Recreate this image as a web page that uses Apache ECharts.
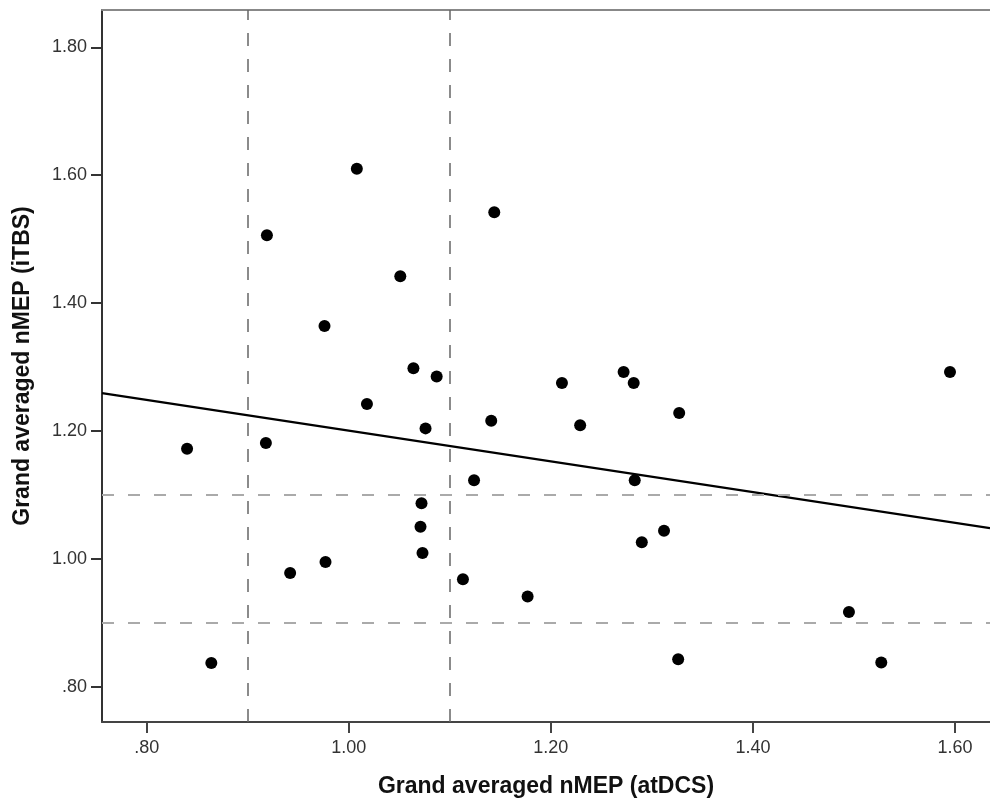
<!DOCTYPE html>
<html>
<head>
<meta charset="utf-8">
<script src="https://cdn.jsdelivr.net/npm/echarts@6/dist/echarts.min.js"></script>
<style>
    html, body { margin: 0; padding: 0; background: #fff; }
    #chart { width: 990px; height: 802px; }
</style>
</head>
<body>
<div id="chart"></div>
<script>
    // values
    var atDCS = [0.840, 0.864, 0.919, 0.918, 0.942, 0.976, 0.977, 1.008, 1.018, 1.051, 1.064,
        1.072, 1.071, 1.073, 1.076, 1.087, 1.113, 1.124, 1.144, 1.141, 1.177, 1.211,
        1.229, 1.272, 1.282, 1.283, 1.290, 1.312, 1.327, 1.326, 1.495, 1.527, 1.595];
    var iTBS = [1.172, 0.837, 1.506, 1.181, 0.978, 1.364, 0.995, 1.610, 1.242, 1.442, 1.298,
        1.087, 1.050, 1.009, 1.204, 1.285, 0.968, 1.123, 1.542, 1.216, 0.941, 1.275,
        1.209, 1.292, 1.275, 1.123, 1.026, 1.044, 1.228, 0.843, 0.917, 0.838, 1.292];
    var fitX = [0.7558, 1.6346];
    var fitY = [1.259, 1.048];
    var cutX = [0.90, 1.10];
    var cutY = [0.90, 1.10];
    var xTicks = [0.80, 1.00, 1.20, 1.40, 1.60];
    var yTicks = [0.80, 1.00, 1.20, 1.40, 1.60, 1.80];

    var xRange = [0.7558, 1.6346];
    var yRange = [0.7448, 1.8583];

    function fmt(v) {
        return v.toFixed(2).replace(/^0/, '');
    }

    var chart = echarts.init(document.getElementById('chart'));
    var font = '"Liberation Sans", Arial, sans-serif';

    var points = atDCS.map(function (x, i) { return [x, iTBS[i]]; });
    var fit = fitX.map(function (x, i) { return [x, fitY[i]]; });

    var option = {
        backgroundColor: '#fff',
        animation: false,
        grid: {
            left: 102,
            right: 0,
            top: 10,
            bottom: 80,
            containLabel: false,
            outerBoundsMode: 'none'
        },
        xAxis: [
            {
                type: 'value',
                min: xRange[0],
                max: xRange[1],
                name: 'Grand averaged nMEP (atDCS)',
                nameLocation: 'middle',
                nameGap: 53,
                nameTextStyle: {
                    fontFamily: font,
                    fontWeight: 'bold',
                    fontSize: 23,
                    color: '#111'
                },
                axisLine: { lineStyle: { color: '#444', width: 2 } },
                axisTick: {
                    show: true,
                    length: 11,
                    customValues: xTicks,
                    lineStyle: { color: '#444', width: 2 }
                },
                axisLabel: {
                    customValues: xTicks,
                    margin: 17,
                    fontFamily: font,
                    fontSize: 18,
                    color: '#333',
                    formatter: fmt
                },
                splitLine: { show: false }
            },
            {
                type: 'value',
                position: 'top',
                min: xRange[0],
                max: xRange[1],
                axisLine: { lineStyle: { color: '#888', width: 2 } },
                axisTick: { show: false },
                axisLabel: { show: false },
                splitLine: { show: false }
            }
        ],
        yAxis: {
            type: 'value',
            min: yRange[0],
            max: yRange[1],
            name: 'Grand averaged nMEP (iTBS)',
            nameLocation: 'middle',
            nameGap: 68,
            nameTextStyle: {
                fontFamily: font,
                fontWeight: 'bold',
                fontSize: 23,
                color: '#111'
            },
            axisLine: { show: true, lineStyle: { color: '#333', width: 2 } },
            axisTick: {
                show: true,
                length: 11,
                customValues: yTicks,
                lineStyle: { color: '#333', width: 2 }
            },
            axisLabel: {
                customValues: yTicks,
                margin: 15,
                fontFamily: font,
                fontSize: 18,
                color: '#333',
                formatter: fmt
            },
            splitLine: { show: false }
        },
        series: [
            {
                type: 'line',
                data: [],
                silent: true,
                markLine: {
                    symbol: 'none',
                    label: { show: false },
                    lineStyle: { color: '#666', width: 1.5, type: [13, 13] },
                    data: cutX.map(function (v) { return { xAxis: v }; })
                }
            },
            {
                type: 'line',
                data: [],
                silent: true,
                markLine: {
                    symbol: 'none',
                    label: { show: false },
                    lineStyle: { color: '#aaa', width: 2, type: [12, 14] },
                    data: cutY.map(function (v) { return { yAxis: v }; })
                }
            },
            {
                type: 'line',
                data: fit,
                symbol: 'none',
                silent: true,
                lineStyle: { color: '#000', width: 2.2 }
            },
            {
                type: 'scatter',
                data: points,
                symbol: 'circle',
                symbolSize: 12,
                itemStyle: { color: '#000', opacity: 1 }
            }
        ]
    };
    chart.setOption(option);
</script>
</body>
</html>
